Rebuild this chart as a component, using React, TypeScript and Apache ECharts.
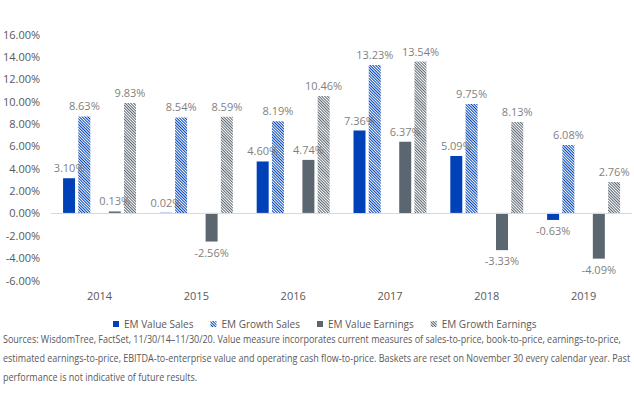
import React, { useEffect, useRef } from "react";
import * as echarts from "echarts";

const years = ["2014", "2015", "2016", "2017", "2018", "2019"];
const valueSales = [3.1, 0.02, 4.6, 7.36, 5.09, -0.63];
const growthSales = [8.63, 8.54, 8.19, 13.23, 9.75, 6.08];
const valueEarnings = [0.13, -2.56, 4.74, 6.37, -3.33, -4.09];
const growthEarnings = [9.83, 8.59, 10.46, 13.54, 8.13, 2.76];

const sourceLines = [
  "Sources: WisdomTree, FactSet, 11/30/14\u201311/30/20. Value measure incorporates current measures of sales-to-price, book-to-price, earnings-to-price,",
  "estimated earnings-to-price, EBITDA-to-enterprise value and operating cash flow-to-price. Baskets are reset on November 30 every calendar year. Past",
  "performance is not indicative of future results.",
];

const BLUE = "#0041b8";
const SLATE = "#5b6670";
const FONT = "'Open Sans', 'Noto Sans', sans-serif";
const SOURCE_FONT = `10px ${FONT}`;
const SOURCE_WIDTH = 619;

const stripes = (color: string) => ({
  symbol: "rect",
  symbolSize: 1,
  dashArrayX: [1, 0],
  dashArrayY: [1, 1],
  rotation: Math.PI / 4,
  color,
});

const withLabels = (values: number[]) =>
  values.map((v) => ({
    value: v,
    label: { position: v < 0 ? "bottom" : "top" },
  }));

// horizontal squeeze so the first footnote line spans the footnote width
function footnoteScale(): number {
  const ctx = document.createElement("canvas").getContext("2d");
  if (!ctx) return 0.8;
  ctx.font = SOURCE_FONT;
  const w = ctx.measureText(sourceLines[0]).width;
  return w > 0 ? SOURCE_WIDTH / w : 0.8;
}

export default function App() {
  const ref = useRef<HTMLDivElement>(null);

  useEffect(() => {
    if (!ref.current) return;
    const chart = echarts.init(ref.current, null, { renderer: "svg" });
    const sx = footnoteScale();

    const labelStyle = {
      show: true,
      formatter: (p: any) => `${Number(p.value).toFixed(2)}%`,
      color: "#7f7f7f",
      fontSize: 11,
      fontFamily: FONT,
      distance: 5,
    };

    const bar = (name: string, values: number[], style: any) => ({
      name,
      type: "bar",
      barWidth: 12,
      barGap: "27%",
      data: withLabels(values),
      itemStyle: style,
      label: labelStyle,
    });

    chart.setOption({
      animation: false,
      grid: { left: 48, right: 2, top: 34, bottom: 130, containLabel: false },
      legend: {
        data: ["EM Value Sales", "EM Growth Sales", "EM Value Earnings", "EM Growth Earnings"],
        left: 108,
        top: 314,
        itemWidth: 6,
        itemHeight: 6,
        itemGap: 17,
        icon: "rect",
        textStyle: { color: "#595959", fontSize: 10, fontFamily: FONT },
      },
      xAxis: {
        type: "category",
        data: years,
        axisLine: { show: false, onZero: false },
        axisTick: { show: false },
        axisLabel: { color: "#595959", fontSize: 11, fontFamily: FONT, margin: 10 },
      },
      yAxis: {
        type: "value",
        min: -6,
        max: 16,
        interval: 2,
        splitLine: { show: false },
        axisLine: { show: false },
        axisTick: { show: false },
        axisLabel: {
          color: "#595959",
          fontSize: 11,
          fontFamily: FONT,
          margin: 11,
          formatter: (v: number) => `${v.toFixed(2)}%`,
        },
      },
      series: [
        {
          ...bar("EM Value Sales", valueSales, { color: BLUE }),
          markLine: {
            silent: true,
            symbol: "none",
            label: { show: false },
            lineStyle: { color: "#d9d9d9", width: 1, type: "solid" },
            data: [{ yAxis: 0 }],
          },
        },
        bar("EM Growth Sales", growthSales, { color: "#ffffff", decal: stripes(BLUE) }),
        {
          name: "spacer",
          type: "bar",
          barWidth: 12,
          barGap: "27%",
          data: years.map(() => null),
        },
        bar("EM Value Earnings", valueEarnings, { color: SLATE }),
        bar("EM Growth Earnings", growthEarnings, { color: "#ffffff", decal: stripes(SLATE) }),
      ],
      graphic: sourceLines.map((line, i) => ({
        type: "text",
        x: 3,
        y: 339 + i * 19,
        scaleX: sx,
        style: {
          text: line,
          fill: "#595959",
          font: SOURCE_FONT,
          verticalAlign: "middle",
        },
      })),
    });

    return () => chart.dispose();
  }, []);

  return (
    <div
      ref={ref}
      style={{ position: "fixed", left: 0, top: 0, width: 634, height: 410, background: "#fff" }}
    />
  );
}
